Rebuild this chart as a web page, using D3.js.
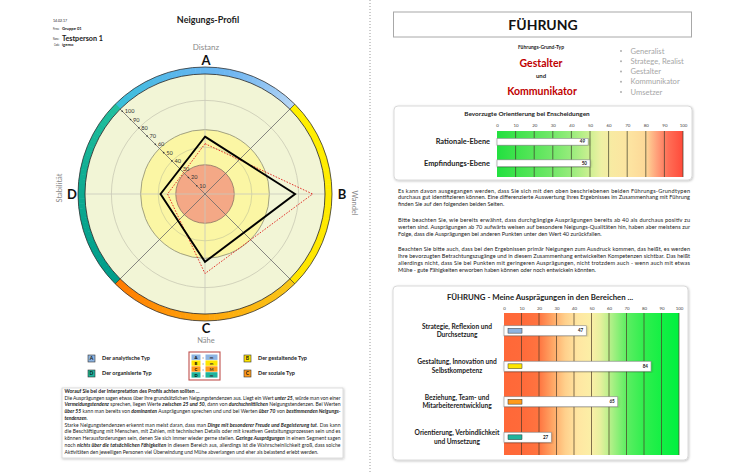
<!DOCTYPE html>
<html><head><meta charset="utf-8">
<script src="https://cdn.jsdelivr.net/npm/d3@7"></script>
<style>body{margin:0;background:#fff}svg{display:block;font-family:Lato,'Open Sans',sans-serif}</style>
</head><body><svg id="c" width="743" height="474"></svg>
<script>
// ---------- data ----------
const radarAxes = ["A","B","C","D"];
const radarNames = ["Distanz","Wandel","Nähe","Stabilität"];
const profileValues = [49,77,58,38];
const compareValues = [43,92,68,32];
const radarTicks = [10,20,30,40,50,60,70,80,90,100];
const zoneLimits = [25,40,55,80];
const typeLetters = ["A","B","C","D"];
const typeNames = ["Der analytische Typ","Der gestaltende Typ","Der soziale Typ","Der organisierte Typ"];
const typeLevels = ["m","m","M","m"];
const typeColors = ["#8db4e2","#ffe600","#ff9a1a","#1fb49c"];
const leaderTypes = ["Generalist","Stratege, Realist","Gestalter","Kommunikator","Umsetzer"];
const mainTypes = ["Gestalter","Kommunikator"];
const orientCategories = ["Rationale-Ebene","Empfindungs-Ebene"];
const orientValues = [49,50];
const areaCategories = [["Strategie, Reflexion und","Durchsetzung"],["Gestaltung, Innovation und","Selbstkompetenz"],["Beziehung, Team- und","Mitarbeiterentwicklung"],["Orientierung, Verbindlichkeit","und Umsetzung"]];
const areaValues = [47,84,65,27];
const barTicks = [0,10,20,30,40,50,60,70,80,90,100];
const orientStops = [[0,"#22e040"],[10,"#3ee34c"],[20,"#58e55a"],[30,"#74e86a"],[40,"#98ec7c"],[50,"#cdf092"],[56,"#eef0a4"],[62,"#f8eaa2"],[72,"#fde3a0"],[80,"#fdd898"],[86,"#ffa07a"],[92,"#ff6e56"],[100,"#ff4a3a"]];
const areaStops = [[0,"#ff6838"],[10,"#ff6a3a"],[20,"#ff7440"],[28,"#ffa866"],[35,"#ffd08c"],[42,"#ffe6a2"],[50,"#fbefa6"],[55,"#e6f09e"],[62,"#a8f084"],[70,"#5cee62"],[80,"#30ee4e"],[90,"#14f044"],[100,"#00f040"]];
const ringColors = [["#36bfd8","#5cb6ee","#6ab2f2","#b8d6f4"],["#fff000","#ffec00","#ffe400"],["#f8c818","#ffa60c","#ff7a00"],["#009c8a","#0aa890","#22c09e"]];
const headerLabels = ["Firma:","Name:","Code:"];
const headerValues = ["Gruppe 01","Testperson 1","igemo"];

const leftText = [
 "**Worauf Sie bei der Interpretation des Profils achten sollten ...**",
 "Die Ausprägungen sagen etwas über Ihre grundsätzlichen Neigungstendenzen aus. Liegt ein Wert **unter 25**, würde man von einer",
 "**Vermeidungstendenz** sprechen, liegen Werte **zwischen 25 und 50**, dann von **durchschnittlichen** Neigungstendenzen. Bei Werten",
 "**über 55** kann man bereits von **dominanten** Ausprägungen sprechen und und bei Werten **über 70** von **bestimmenden Neigungs-**",
 "**tendenzen**.",
 "Starke Neigungstendenzen erkennt man meist daran, dass man **Dinge mit besonderer Freude und Begeisterung tut**. Das kann",
 "die Beschäftigung mit Menschen, mit Zahlen, mit technischen Details oder mit kreativen Gestaltungsprozessen sein und es",
 "können Herausforderungen sein, denen Sie sich immer wieder gerne stellen. **Geringe Ausprägungen** in einem Segment sagen",
 "noch **nichts über die tatsächlichen Fähigkeiten** in diesem Bereich aus, allerdings ist die Wahrscheinlichkeit groß, dass solche",
 "Aktivitäten den jeweiligen Personen viel Überwindung und Mühe abverlangen und eher als belastend erlebt werden."
];
const leftJustify = [false,true,true,true,false,true,true,true,true,false];
const rightText = [
 ["Es kann davon ausgegangen werden, dass Sie sich mit den oben beschriebenen beiden Führungs-Grundtypen",
  "durchaus gut identifizieren können. Eine differenzierte Auswertung Ihres Ergebnisses im Zusammenhang mit Führung",
  "finden Sie auf den folgenden beiden Seiten."],
 ["Bitte beachten Sie, wie bereits erwähnt, dass durchgängige Ausprägungen bereits ab 40 als durchaus positiv zu",
  "werten sind. Ausprägungen ab 70 aufwärts weisen auf besondere Neigungs-Qualitäten hin, haben aber meistens zur",
  "Folge, dass die Ausprägungen bei anderen Punkten unter den Wert 40 zurückfallen."],
 ["Beachten Sie bitte auch, dass bei den Ergebnissen primär Neigungen zum Ausdruck kommen, das heißt, es werden",
  "Ihre bevorzugten Betrachtungszugänge und in diesem Zusammenhang entwickelten Kompetenzen sichtbar. Das heißt",
  "allerdings nicht, dass Sie bei Punkten mit geringeren Ausprägungen, nicht trotzdem auch - wenn auch mit etwas",
  "Mühe - gute Fähigkeiten erworben haben können oder noch entwickeln könnten."]
];

// ---------- helpers ----------
const svg = d3.select("#c");
const defs = svg.append("defs");
defs.append("filter").attr("id","sh").attr("x","-5%").attr("y","-5%").attr("width","110%").attr("height","115%")
  .append("feDropShadow").attr("dx",0.6).attr("dy",0.8).attr("stdDeviation",0.8).attr("flood-color","#000").attr("flood-opacity",0.25);

function rich(sel, x, y, str, o){
  const t = sel.append("text").attr("x",x).attr("y",y).attr("font-size",o.size).attr("fill",o.fill||"#1a1a1a");
  str.split("**").forEach((p,i)=>{
    if(!p) return;
    const ts = t.append("tspan").text(p);
    if(i%2){ ts.attr("font-weight","bold"); if(o.italic) ts.attr("font-style","italic"); }
  });
  if(o.width) t.attr("textLength",o.width).attr("lengthAdjust","spacing");
  return t;
}

// separator
svg.append("line").attr("x1",370).attr("x2",370).attr("y1",0).attr("y2",474)
  .attr("stroke","#9a9a9a").attr("stroke-width",1).attr("stroke-dasharray","1,2");

// ---------- left header ----------
const hd = svg.append("g").attr("fill","#222");
hd.append("text").attr("x",53).attr("y",22).attr("font-size",3.6).text("14.02.17");
const hdY = [29.5,40,46];
const hdLabW = [6.2,6.2,5.6];
const hdValSize = [4.2,7.2,4.2];
headerLabels.forEach((s,i)=>{
  hd.append("text").attr("x",i===2?54:53).attr("y",hdY[i]).attr("font-size",3.3)
    .attr("textLength",hdLabW[i]).attr("lengthAdjust","spacingAndGlyphs").text(s);
  hd.append("text").attr("x",62).attr("y",hdY[i]+(i===1?0.5:0)).attr("font-size",hdValSize[i]).attr("font-weight","bold").text(headerValues[i]);
});
svg.append("text").attr("x",208).attr("y",23).attr("text-anchor","middle").attr("font-size",9).attr("font-weight","bold").attr("fill","#222").text("Neigungs-Profil");

// ---------- radar ----------
const cx=205, cy=194;
const r = d3.scaleLinear().domain([0,100]).range([0,117]);
const g = svg.append("g").attr("transform",`translate(${cx},${cy})`);
g.append("circle").attr("r",120).attr("fill","#f2f5d6");
g.append("circle").attr("r",r(zoneLimits[3])).attr("fill","none").attr("stroke","#c9c9b4").attr("stroke-width",0.8);
g.append("circle").attr("r",r(zoneLimits[2])).attr("fill","#fbf6a4").attr("stroke","#8c8c74").attr("stroke-width",0.8);
g.append("circle").attr("r",r(zoneLimits[1])).attr("fill","none").attr("stroke","#cfcf9a").attr("stroke-width",0.8);
g.append("circle").attr("r",r(zoneLimits[0])).attr("fill","#f4a886").attr("stroke","#8c7464").attr("stroke-width",0.8);
[[0,-1],[1,0]].forEach(([dx,dy])=>{
  g.append("line").attr("x1",-dx*120).attr("y1",-dy*120).attr("x2",dx*120).attr("y2",dy*120).attr("stroke","#c8c8bc").attr("stroke-width",0.8);
});
[45,135,225,315].forEach(a=>{
  const t=a*Math.PI/180;
  g.append("line").attr("x1",0).attr("y1",0).attr("x2",120*Math.sin(t)).attr("y2",-120*Math.cos(t)).attr("stroke","#6a6a6a").attr("stroke-width",0.8);
});
const arc = d3.arc();
ringColors.forEach((cols,q)=>{
  const a0=-Math.PI/4+q*Math.PI/2, N=40, step=(Math.PI/2)/N;
  const ip = d3.interpolateRgbBasis(cols);
  for(let i=0;i<N;i++){
    g.append("path").attr("d",arc({innerRadius:120,outerRadius:127,startAngle:a0+i*step,endAngle:a0+(i+1)*step+0.004}))
      .attr("fill",ip((i+0.5)/N));
  }
  g.append("line").attr("x1",120*Math.sin(a0)).attr("y1",-120*Math.cos(a0)).attr("x2",127*Math.sin(a0)).attr("y2",-127*Math.cos(a0)).attr("stroke","#333").attr("stroke-width",0.7);
});
g.append("circle").attr("r",120).attr("fill","none").attr("stroke","#222").attr("stroke-width",0.8);
g.append("circle").attr("r",127).attr("fill","none").attr("stroke","#333").attr("stroke-width",0.8);
radarTicks.forEach(v=>{
  const px=-r(v)/Math.SQRT2, py=-r(v)/Math.SQRT2;
  g.append("circle").attr("cx",px).attr("cy",py).attr("r",0.8).attr("fill","#333");
  g.append("text").attr("x",px+2.5).attr("y",py+2).attr("font-size",5.6).attr("fill","#333").text(v);
});
const radial = d3.lineRadial().angle((d,i)=>i*Math.PI/2).radius(d=>r(d)).curve(d3.curveLinearClosed);
g.append("path").attr("d",radial(compareValues)).attr("fill","none").attr("stroke","#e0201c").attr("stroke-width",0.9).attr("stroke-dasharray","1.6,1.4");
g.append("path").attr("d",radial(profileValues)).attr("fill","none").attr("stroke","#000").attr("stroke-width",1.9).attr("stroke-linejoin","miter");
svg.append("text").attr("x",206).attr("y",50).attr("text-anchor","middle").attr("font-size",8).attr("fill","#8a8a8a").text(radarNames[0]);
svg.append("text").attr("x",206).attr("y",64.5).attr("text-anchor","middle").attr("font-size",13).attr("font-weight","bold").attr("fill","#111").text(radarAxes[0]);
svg.append("text").attr("x",342).attr("y",198.5).attr("text-anchor","middle").attr("font-size",13).attr("font-weight","bold").attr("fill","#111").text(radarAxes[1]);
svg.append("text").attr("transform","translate(352,203) rotate(90)").attr("text-anchor","middle").attr("font-size",7.5).attr("fill","#8a8a8a").text(radarNames[1]);
svg.append("text").attr("x",206).attr("y",333).attr("text-anchor","middle").attr("font-size",13).attr("font-weight","bold").attr("fill","#111").text(radarAxes[2]);
svg.append("text").attr("x",206).attr("y",343).attr("text-anchor","middle").attr("font-size",7.5).attr("fill","#8a8a8a").text(radarNames[2]);
svg.append("text").attr("x",72).attr("y",199).attr("text-anchor","middle").attr("font-size",13).attr("font-weight","bold").attr("fill","#111").text(radarAxes[3]);
svg.append("text").attr("transform","translate(62,188) rotate(-90)").attr("text-anchor","middle").attr("font-size",7.5).attr("fill","#8a8a8a").text(radarNames[3]);

// ---------- legend ----------
const legPos = [[88,355],[244,355],[244,370],[88,370]];
typeLetters.forEach((L,i)=>{
  const [x,y]=legPos[i];
  svg.append("rect").attr("x",x).attr("y",y).attr("width",7).attr("height",7).attr("fill",typeColors[i]).attr("stroke","#333").attr("stroke-width",0.6);
  svg.append("text").attr("x",x+3.5).attr("y",y+5.3).attr("text-anchor","middle").attr("font-size",5).attr("font-weight","bold").attr("fill","#111").text(L);
  svg.append("text").attr("x",x+14).attr("y",y+5.3).attr("font-size",5.5).attr("font-weight","bold").attr("fill","#222").text(typeNames[i]);
});
const mb = svg.append("g");
mb.append("rect").attr("x",189).attr("y",352).attr("width",31).attr("height",28).attr("fill","#fff").attr("stroke","#c0504d").attr("stroke-width",1.1);
typeLetters.forEach((L,i)=>{
  const y=354.5+i*5.9;
  mb.append("rect").attr("x",191.5).attr("y",y).attr("width",9).attr("height",5.4).attr("fill",typeColors[i]);
  mb.append("rect").attr("x",205.5).attr("y",y).attr("width",12).attr("height",5.4).attr("fill",typeColors[i]);
  mb.append("text").attr("x",196).attr("y",y+4.3).attr("text-anchor","middle").attr("font-size",4.2).attr("font-weight","bold").text(L);
  mb.append("text").attr("x",203).attr("y",y+4.3).attr("text-anchor","middle").attr("font-size",4.2).attr("font-weight","bold").text(":");
  mb.append("text").attr("x",211.5).attr("y",y+4.3).attr("text-anchor","middle").attr("font-size",4.2).attr("font-weight","bold").attr("fill","#333").text(typeLevels[i]);
});

// ---------- left text box ----------
svg.append("rect").attr("x",62).attr("y",388).attr("width",281).attr("height",70).attr("fill","#fff").attr("stroke","#d4d4d4").attr("stroke-width",0.8).attr("filter","url(#sh)");
leftText.forEach((s,i)=>{
  rich(svg,64.5,392.8+i*6.78,s,{size:5,italic:i>0,width:leftJustify[i]?276:null});
});

// ---------- right header ----------
svg.append("rect").attr("x",393.5).attr("y",12).attr("width",298).attr("height",25).attr("fill","#fff").attr("stroke","#a8a8a8").attr("stroke-width",1);
svg.append("text").attr("x",543).attr("y",29.5).attr("text-anchor","middle").attr("font-size",14).attr("font-weight","bold").attr("fill","#111").text("FÜHRUNG");
svg.append("text").attr("x",541).attr("y",49).attr("text-anchor","middle").attr("font-size",5).attr("font-weight","bold").attr("fill","#222").text("Führungs-Grund-Typ");
svg.append("text").attr("x",541).attr("y",67).attr("text-anchor","middle").attr("font-size",10.5).attr("font-weight","bold").attr("fill","#c00000").text(mainTypes[0]);
svg.append("text").attr("x",541).attr("y",78).attr("text-anchor","middle").attr("font-size",6).attr("font-weight","bold").attr("fill","#222").text("und");
svg.append("text").attr("x",542).attr("y",94.5).attr("text-anchor","middle").attr("font-size",10.5).attr("font-weight","bold").attr("fill","#c00000").text(mainTypes[1]);
leaderTypes.forEach((s,i)=>{
  const y=51+i*10.25;
  svg.append("circle").attr("cx",621).attr("cy",y).attr("r",0.9).attr("fill","#a6a6a6");
  svg.append("text").attr("x",630.5).attr("y",y+2.6).attr("font-size",7.6).attr("fill","#a6a6a6").text(s);
});

// ---------- bar chart builder ----------
function barChart(o){
  const box = svg.append("g");
  box.append("rect").attr("x",o.box[0]).attr("y",o.box[1]).attr("width",o.box[2]).attr("height",o.box[3]).attr("rx",4)
    .attr("fill","#fff").attr("stroke","#d0d0d0").attr("stroke-width",0.8).attr("filter","url(#sh)");
  box.append("text").attr("x",o.titleX).attr("y",o.titleY).attr("text-anchor","middle").attr("font-size",o.titleSize).attr("font-weight","bold").attr("fill","#222").text(o.title);
  const x = d3.scaleLinear().domain([0,100]).range(o.xr);
  const y = d3.scalePoint().domain(d3.range(o.values.length)).range(o.yr).padding(0.5);
  const gid = o.id;
  const lg = defs.append("linearGradient").attr("id",gid).attr("gradientUnits","userSpaceOnUse")
    .attr("x1",x(0)).attr("x2",x(100)).attr("y1",0).attr("y2",0);
  o.stops.forEach(([v,c])=>lg.append("stop").attr("offset",v/100).attr("stop-color",c));
  box.append("rect").attr("x",x(0)).attr("y",o.plot[0]).attr("width",x(100)-x(0)).attr("height",o.plot[1]-o.plot[0]).attr("fill",`url(#${gid})`);
  const ax = box.append("g").attr("transform",`translate(0,${o.tickY})`)
    .call(d3.axisTop(x).tickValues(barTicks).tickSize(0).tickPadding(0));
  ax.select(".domain").remove();
  ax.selectAll("text").attr("font-size",4.4).attr("fill","#444").attr("font-family","Lato,sans-serif");
  barTicks.slice(1).forEach(v=>{
    box.append("line").attr("x1",x(v)).attr("x2",x(v)).attr("y1",o.plot[0]).attr("y2",o.plot[1]).attr("stroke",o.gridColor).attr("stroke-width",0.7);
  });
  o.values.forEach((v,i)=>{
    const yc=y(i);
    box.append("rect").attr("x",x(0)).attr("y",yc-o.barH/2).attr("width",x(v)-x(0)).attr("height",o.barH)
      .attr("fill","#fff").attr("stroke","#8c8c8c").attr("stroke-width",0.6).attr("filter","url(#sh)");
    box.append("text").attr("x",x(v)-3).attr("y",yc+1.6).attr("text-anchor","end").attr("font-size",4.6).attr("font-weight","bold").attr("fill","#222").text(v);
    if(o.swatch){
      box.append("rect").attr("x",x(0)+4).attr("y",yc-2.4).attr("width",14).attr("height",4.8).attr("fill",o.swatch[i]).attr("stroke","#333").attr("stroke-width",0.5);
    }
    const lab = o.labels[i];
    const lines = Array.isArray(lab)?lab:[lab];
    lines.forEach((s,k)=>{
      box.append("text").attr("x",o.labelX).attr("y",yc+o.labelDy+(k-(lines.length-1)/2)*o.labelLH)
        .attr("text-anchor",o.labelAnchor).attr("font-size",o.labelSize).attr("font-weight","bold").attr("fill","#222").text(s);
    });
  });
}
barChart({id:"g1",box:[394,106,298,74],title:"Bevorzugte Orientierung bei Enscheidungen",titleX:527,titleY:115.5,titleSize:6.4,
  xr:[497,683],yr:[131,174],plot:[131,177],tickY:127,values:orientValues,labels:orientCategories,barH:6.8,
  stops:orientStops,gridColor:"#3c3c2a",labelX:490,labelAnchor:"end",labelSize:7.4,labelDy:2.6,labelLH:0});
barChart({id:"g2",box:[393,286,295,174],title:"FÜHRUNG - Meine Ausprägungen in den Bereichen ...",titleX:540,titleY:300,titleSize:7.8,
  xr:[504,679],yr:[313,455],plot:[313,455],tickY:309.5,values:areaValues,labels:areaCategories,barH:10,swatch:typeColors,
  stops:areaStops,gridColor:"#4a3a26",labelX:457,labelAnchor:"middle",labelSize:6.6,labelDy:2.3,labelLH:8.8});

// ---------- right text ----------
let ry = 192.5;
rightText.forEach(par=>{
  par.forEach((s,i)=>{
    rich(svg,398,ry,s,{size:5.6,width:i<par.length-1?292:null});
    ry+=6.95;
  });
  ry+=8.3;
});
</script></body></html>
